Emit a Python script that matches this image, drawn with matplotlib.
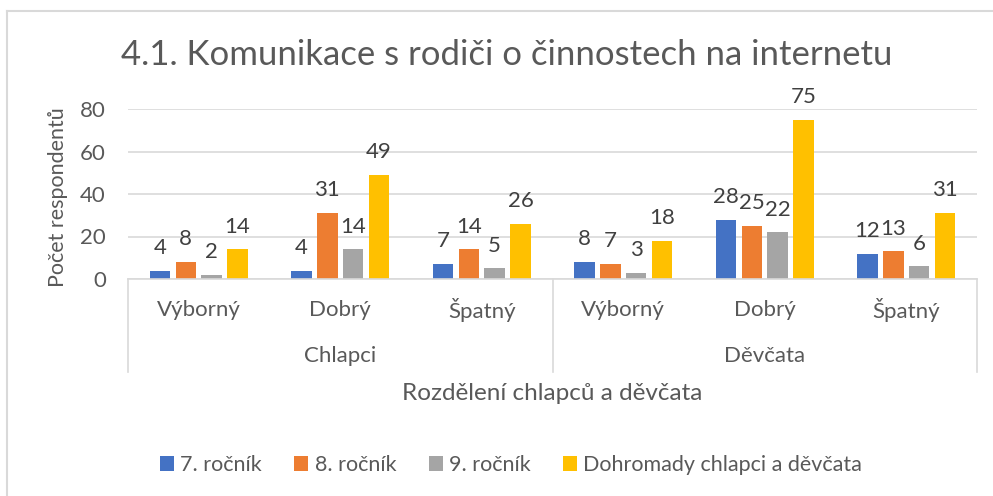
import numpy as np
import matplotlib.pyplot as plt
from matplotlib.lines import Line2D

# data
groups = ['Chlapci', 'Děvčata']
categories = ['Výborný', 'Dobrý', 'Špatný', 'Výborný', 'Dobrý', 'Špatný']
series_names = ['7. ročník', '8. ročník', '9. ročník', 'Dohromady chlapci a děvčata']
rocnik7 = [4, 4, 7, 8, 28, 12]
rocnik8 = [8, 31, 14, 7, 25, 13]
rocnik9 = [2, 14, 5, 3, 22, 6]
dohromady = [14, 49, 26, 18, 75, 31]
colors = ['#4472C4', '#ED7D31', '#A5A5A5', '#FFC000']

plt.rcParams['font.family'] = ['Lato', 'DejaVu Sans']
W, H = 993, 496
fig = plt.figure(figsize=(W / 100, H / 100), dpi=100)

# axes in pixel terms: left 128, right 977, y=0 at 279, y=80 at 109
ax = fig.add_axes([128 / W, 1 - 279 / H, (977 - 128) / W, (279 - 109) / H])
x = np.arange(len(categories))
width = 0.145
step = 0.1825
all_series = [rocnik7, rocnik8, rocnik9, dohromady]
for i, vals in enumerate(all_series):
    pos = x + (i - 1.5) * step
    ax.bar(pos, vals, width, color=colors[i], label=series_names[i], zorder=3)
    for p, v in zip(pos, vals):
        ax.annotate(str(v), (p, v), xytext=(0, 12), textcoords='offset points',
                    ha='center', va='baseline', fontsize=16, color='#404040')

ax.set_xlim(-0.5, len(categories) - 0.5)
ax.set_ylim(0, 80)
ax.set_yticks([0, 20, 40, 60, 80])
ax.grid(axis='y', color='#D9D9D9', linewidth=1.2, zorder=0)
for s in ax.spines.values():
    s.set_visible(False)
ax.tick_params(axis='y', length=0, labelsize=16, labelcolor='#595959', pad=16)
ax.set_xticks([])
ax.axhline(0, color='#D9D9D9', linewidth=1.2, zorder=4, clip_on=False)

# category labels and group boxes below the axis
trans = ax.get_xaxis_transform()
bottom = -(372 - 279) / (279 - 109)
for xc in [-0.5, 2.5, 5.5]:
    ax.plot([xc, xc], [0, bottom], color='#D9D9D9', linewidth=1.2,
            transform=trans, clip_on=False)
cat_y = -(310 - 279) / (279 - 109)
for xi, c in zip(x, categories):
    ax.text(xi, cat_y, c, transform=trans, ha='center', va='center',
            fontsize=16, color='#595959')
grp_y = -(356 - 279) / (279 - 109)
for gi, g in enumerate(groups):
    ax.text(gi * 3 + 1, grp_y, g, transform=trans, ha='center', va='center',
            fontsize=16, color='#595959')

fig.text(552 / W, 1 - 394 / H, 'Rozdělení chlapců a děvčata', ha='center', va='center',
         fontsize=17.5, color='#595959')
fig.text(58 / W, 1 - 197 / H, 'Počet respondentů', rotation=90, ha='center', va='center',
         fontsize=15.5, color='#595959')
fig.text(507 / W, 1 - 55 / H, '4.1. Komunikace s rodiči o činnostech na internetu',
         ha='center', va='center', fontsize=25, color='#595959')

leg = fig.legend(loc='center', bbox_to_anchor=(511 / W, 1 - 465 / H), ncol=4, frameon=False,
                 fontsize=15.5, handlelength=0.65, handleheight=0.65, handletextpad=0.3,
                 columnspacing=1.5, borderpad=0, borderaxespad=0)
for t in leg.get_texts():
    t.set_color('#595959')

# chart border (cropped on right and bottom)
fig.add_artist(Line2D([7 / W, 7 / W], [0, 1 - 11 / H], color='#D9D9D9', linewidth=1.5))
fig.add_artist(Line2D([7 / W, 1], [1 - 11 / H, 1 - 11 / H], color='#D9D9D9', linewidth=1.5))

fig.savefig('out.png', dpi=100)
